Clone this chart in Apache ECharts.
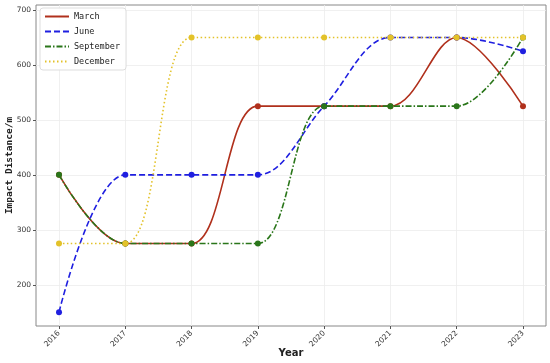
<!DOCTYPE html>
<html><head><meta charset="utf-8">
<script src="https://cdn.jsdelivr.net/npm/echarts@6/dist/echarts.min.js"></script>
<style>html,body{margin:0;padding:0;background:#fff}#c{width:550px;height:363px}</style>
</head><body><div id="c"></div>
<script>
const years = [2016, 2017, 2018, 2019, 2020, 2021, 2022, 2023];
const march = [400, 275, 275, 525, 525, 525, 650, 525];
const june = [150, 400, 400, 400, 525, 650, 650, 625];
const september = [400, 275, 275, 275, 525, 525, 525, 650];
const december = [275, 275, 650, 650, 650, 650, 650, 650];
const yTicks = [200, 300, 400, 500, 600, 700];

const names = ['March', 'June', 'September', 'December'];
const colors = ['#b0301c', '#1f1fe0', '#2a761a', '#e3c22a'];
const types = ['solid', [6, 3], [6, 2, 1.5, 2], [1.5, 2.5]];
const datas = [march, june, september, december];

const chart = echarts.init(document.getElementById('c'));
const mono = '"DejaVu Sans Mono", monospace';
chart.setOption({
  animation: false,
  backgroundColor: '#fff',
  grid: { left: 36, right: 4, top: 5, bottom: 37, show: true, borderColor: '#888', borderWidth: 1, outerBoundsMode: 'none', containLabel: false },
  xAxis: {
    type: 'value', min: 2015.653, max: 2023.347,
    name: 'Year', nameLocation: 'middle', nameGap: 22, nameMoveOverlap: false,
    nameTextStyle: { fontFamily: 'DejaVu Sans', fontWeight: 'bold', fontSize: 10, color: '#222' },
    axisLine: { show: false },
    axisTick: { show: true, customValues: years, length: 3, lineStyle: { color: '#555' } },
    axisLabel: { customValues: years, rotate: 45, fontSize: 7.5, color: '#333', fontFamily: 'DejaVu Sans', margin: 6, formatter: v => String(v) },
    splitLine: { show: true, lineStyle: { color: '#ececec', width: 0.8 } }
  },
  yAxis: {
    type: 'value', min: 125, max: 709,
    name: 'Impact Distance/m', nameLocation: 'middle', nameGap: 21, nameMoveOverlap: false,
    nameTextStyle: { fontFamily: mono, fontWeight: 'bold', fontSize: 9.5, color: '#222' },
    axisLine: { show: false },
    axisTick: { show: true, customValues: yTicks, length: 3, lineStyle: { color: '#555' } },
    axisLabel: { customValues: yTicks, fontSize: 7.5, color: '#333', fontFamily: 'DejaVu Sans', margin: 5 },
    splitLine: { show: true, lineStyle: { color: '#ececec', width: 0.8 } }
  },
  legend: {
    left: 40, top: 8, orient: 'vertical', itemGap: 6, itemWidth: 24, itemHeight: 8,
    padding: [4, 6, 4, 4], backgroundColor: 'rgba(255,255,255,0.9)', borderColor: '#ddd', borderWidth: 1, borderRadius: 3,
    textStyle: { fontFamily: mono, fontSize: 8.5, color: '#222' },
    itemStyle: { opacity: 0 },
    data: names
  },
  series: names.map((n, i) => ({
    name: n, type: 'line', smooth: 0.35,
    data: years.map((y, j) => [y, datas[i][j]]),
    symbol: 'circle', symbolSize: 6,
    itemStyle: { color: colors[i] },
    lineStyle: { color: colors[i], width: 1.6, type: types[i] },
    z: 2 + i
  }))
});
</script></body></html>
